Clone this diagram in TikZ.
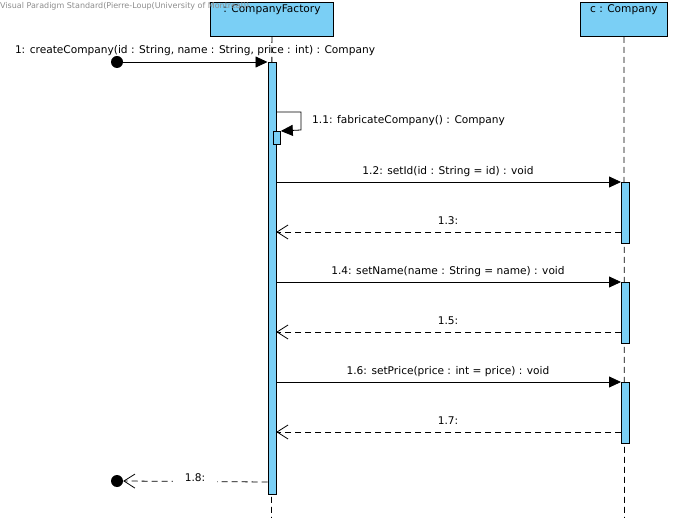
\documentclass[tikz,border=0pt]{standalone}
\usepackage{fontspec}
\setmainfont{DejaVu Sans}
\usetikzlibrary{arrows.meta}
\definecolor{lblue}{RGB}{122,207,245}
\definecolor{wm}{RGB}{140,140,140}
\begin{document}
\begin{tikzpicture}[x=1pt,y=-1pt,
  obj/.style={draw,fill=lblue,line width=0.8pt,minimum width=#1,minimum height=34pt,inner sep=0pt},
  lifeline/.style={dashed,dash pattern=on 6pt off 4pt,line width=0.8pt},
  act/.style={draw,fill=lblue,line width=0.8pt},
  msg/.style={line width=0.8pt,-{Triangle[length=12pt,width=11pt]}},
  ret/.style={line width=0.8pt,dash pattern=on 6pt off 4pt,-{Straight Barb[length=11pt,width=14pt,line width=0.8pt]}},
  lbl/.style={font=\fontsize{10.6}{12}\selectfont,inner sep=1pt},
  dot/.style={circle,fill=black,minimum size=12pt,inner sep=0pt}]
\useasboundingbox (0,0) rectangle (674,518);
% objects
\node[obj=123pt,anchor=north west] (cf) at (210,2) {};
\node[lbl,anchor=north] at (cf.north) [yshift=-1pt] {: CompanyFactory};
\node[obj=87pt,anchor=north west] (co) at (580,2) {};
\node[lbl,anchor=north] at (co.north) [yshift=-1pt] {c : Company};
\node[font=\fontsize{8}{9}\selectfont,text=wm,anchor=west,inner sep=0pt] (wmk) at (0,6) {Visual Paradigm Standard(Pierre-Loup(University of Montreal))};
% lifelines
\coordinate (cfe) at (271.5,518);
\coordinate (coe) at (624.5,518);
\draw[lifeline] (cf.south) -- (cfe);
\draw[lifeline] (co.south) -- (coe);
% activations
\node[act,anchor=north west,minimum width=8pt,minimum height=432pt,inner sep=0pt] (a0) at (267.5,62) {};
\node[act,anchor=north west,minimum width=7pt,minimum height=13pt,inner sep=0pt] (a1) at (273,131) {};
\node[act,anchor=north west,minimum width=8pt,minimum height=61pt,inner sep=0pt] (b1) at (621,182) {};
\node[act,anchor=north west,minimum width=8pt,minimum height=61pt,inner sep=0pt] (b2) at (621,282) {};
\node[act,anchor=north west,minimum width=8pt,minimum height=61pt,inner sep=0pt] (b3) at (621,382) {};
% found message
\node[dot] (start) at (117,62) {};
\draw[msg] (start.center) -- (a0.north west);
\node[lbl] at (195,50.5) {1: createCompany(id : String, name : String, price : int) : Company};
% self message
\coordinate (s1) at (301,112);
\coordinate (s2) at (301,130);
\draw[msg] (a0.east |- s1) -- (s1) -- (s2) -- (a1.north east);
\node[lbl,anchor=west] at (311,120.5) {1.1: fabricateCompany() : Company};
% 1.2 / 1.3
\draw[msg] (a0.east |- b1.north) -- (b1.north west);
\node[lbl] at (448,171.5) {1.2: setId(id : String = id) : void};
\coordinate (r1) at (621,232);
\draw[ret] (r1) -- (a0.east |- r1);
\node[lbl] at (448,221) {1.3:};
% 1.4 / 1.5
\draw[msg] (a0.east |- b2.north) -- (b2.north west);
\node[lbl] at (448,271.5) {1.4: setName(name : String = name) : void};
\coordinate (r2) at (621,332);
\draw[ret] (r2) -- (a0.east |- r2);
\node[lbl] at (448,321) {1.5:};
% 1.6 / 1.7
\draw[msg] (a0.east |- b3.north) -- (b3.north west);
\node[lbl] at (448,371.5) {1.6: setPrice(price : int = price) : void};
\coordinate (r3) at (621,432);
\draw[ret] (r3) -- (a0.east |- r3);
\node[lbl] at (448,421) {1.7:};
% 1.8 lost return
\node[dot] (end) at (117,481) {};
\coordinate (r4) at (267.5,482);
\draw[ret] (r4) -- (end.east);
\node[lbl,fill=white,inner xsep=12pt] at (195,478) {1.8:};
\end{tikzpicture}
\end{document}
